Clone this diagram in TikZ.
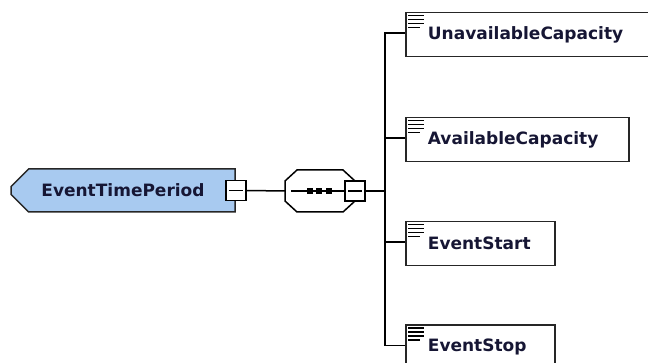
\documentclass[tikz,border=0pt]{standalone}
\usepackage{fontspec}
\setmainfont{DejaVu Sans}
\usepackage{xcolor}
\usetikzlibrary{shapes.misc, calc}

\definecolor{typeblue}{RGB}{168,202,240}
\definecolor{labelnavy}{RGB}{22,22,52}

% the small "documentation" mark in the corner of an element box
\newcommand\docmark[1]{%
  \foreach \dy/\len in {4/16, 8/16, 12/16, 16/12}
    \draw[line width=1.8pt] ($(#1.north west)+(3,\dy)$) -- +(\len,0);}

\begin{document}
\begin{tikzpicture}[x=1pt, y=-1pt, line width=1.5pt,
    every node/.style={font=\fontsize{17}{20}\selectfont\bfseries, text=labelnavy},
    ctype/.style={chamfered rectangle, chamfered rectangle corners={north west, south west},
                  chamfered rectangle xsep=11pt, chamfered rectangle ysep=11pt,
                  draw=black!85, fill=typeblue, minimum width=224pt, minimum height=43pt, inner sep=0pt},
    seqbox/.style={minimum width=70pt, minimum height=42pt, inner sep=0pt, outer sep=0pt},
    minus/.style={draw, fill=white, minimum size=20pt, inner sep=0pt,
                  path picture={\draw ([xshift=3pt]path picture bounding box.west)
                                   -- ([xshift=-3pt]path picture bounding box.east);}},
    elem/.style={draw=black!85, line width=1.8pt, fill=white, minimum height=44pt, text width=#1,
                 inner xsep=22pt, inner ysep=0pt, align=left, anchor=west}]
  \path[use as bounding box] (0,0) rectangle (648,363);
  \clip (0,0) rectangle (648,363);

  % complex type and its sequence
  \node[ctype] (etp) at (123,190.5) {EventTimePeriod};
  \node[minus] (sq1) at (etp.east) {};
  \node[seqbox] (seq) at (320,191) {};
  \draw[fill=white] ($(seq.north west)+(12,0)$) -- ($(seq.north east)+(-12,0)$)
    -- ($(seq.north east)+(0,11)$) -- ($(seq.south east)+(0,-11)$)
    -- ($(seq.south east)+(-12,0)$) -- ($(seq.south west)+(12,0)$)
    -- ($(seq.south west)+(0,-11)$) -- ($(seq.north west)+(0,11)$) -- cycle;
  \node[minus] (sq2) at (seq.east) {};
  \draw (sq1.east) -- (seq.west);
  \draw ([xshift=6pt]seq.west) -- (sq2.west);
  \foreach \dx in {-10,-1,9}
    \fill ($(seq.center)+(\dx-3,-3)$) rectangle +(6,6);

  % child elements
  \node[elem=206pt] (unavail) at (405,34.5)  {UnavailableCapacity};
  \node[elem=179pt] (avail)   at (405,139.5) {AvailableCapacity};
  \node[elem=105pt] (start)   at (405,243.5) {EventStart};
  \node[elem=105pt] (stop)    at (405,347)   {EventStop};
  \foreach \e in {unavail, avail, start, stop}
    {\docmark{\e}}

  \coordinate (bus) at (385,191);
  \draw (sq2.east) -- (bus);
  \foreach \e in {unavail, avail, start, stop}
    \draw (bus) |- ([yshift=1.5pt]\e.west);
\end{tikzpicture}
\end{document}
